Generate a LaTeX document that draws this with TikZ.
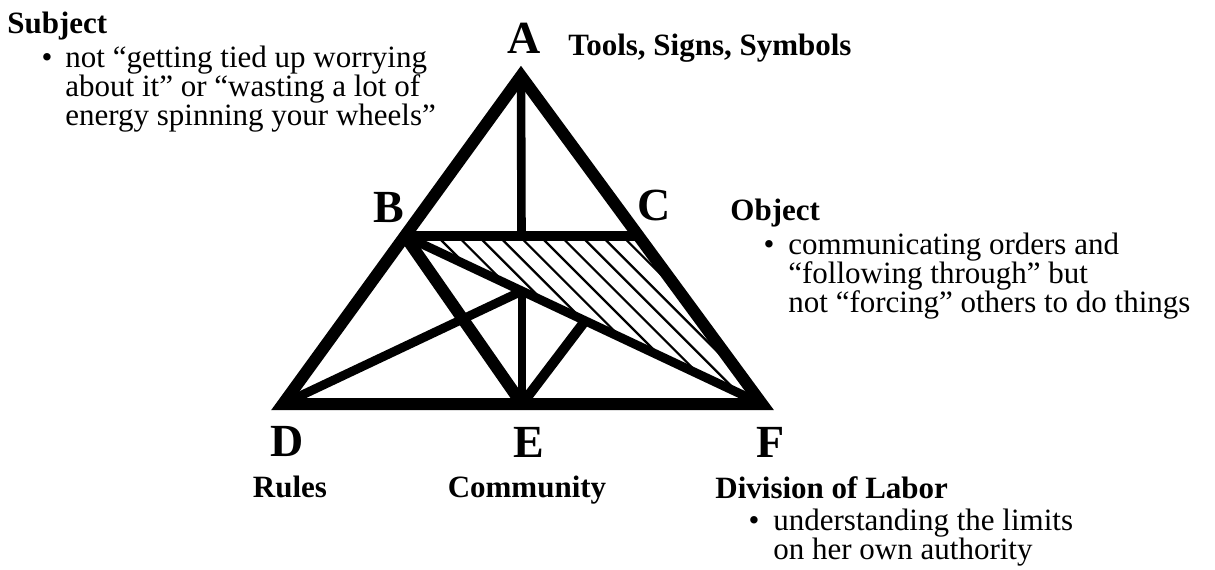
\documentclass[tikz,border=0pt]{standalone}
\usepackage{fontspec}
\setmainfont{Liberation Serif}
\begin{document}
\begin{tikzpicture}[x=0.5pt,y=-0.5pt,
  lbl/.style={font=\fontsize{23}{23}\selectfont\bfseries, inner sep=0pt, anchor=base},
  head/.style={font=\fontsize{15.5}{15.5}\selectfont\bfseries, inner sep=0pt, anchor=base west},
  body/.style={font=\fontsize{15.5}{15.5}\selectfont, inner sep=0pt, anchor=base west},
  bul/.style={font=\fontsize{15.5}{15.5}\selectfont, inner sep=0pt, anchor=base},
  outer/.style={line width=6pt, line join=miter},
  thick1/.style={line width=4.5pt},
  hatchline/.style={line width=1.1pt}]
\useasboundingbox (0,0) rectangle (1215,569);
% key points
\coordinate (A) at (521,76);
\coordinate (B) at (405,236);
\coordinate (C) at (638,236);
\coordinate (D) at (283,404);
\coordinate (E) at (522,404);
\coordinate (F) at (762,404);
\coordinate (P) at (522,291);
\coordinate (Q) at (585,321);
\coordinate (M) at (521.5,236);
% hatching of triangle B-C-F
\begin{scope}
  \clip (B) -- (C) -- (F) -- cycle;
  \foreach \i in {-2,...,20}
    \draw[hatchline] (437+\i*20.6,236) -- ++(400,400);
\end{scope}
% inner lines
\draw[line width=4.3pt] (A) -- (M);
\draw[line width=4.3pt] (P) -- (E);
\draw[line width=5pt] (B) -- (C);
\draw[line width=6pt] (B) -- (E);
\draw[thick1] (B) -- (F);
\draw[thick1] (D) -- (P);
\draw[line width=5pt] (E) -- (Q);
% outer triangle
\draw[outer] (A) -- (D) -- (F) -- cycle;
% vertex letters
\node[lbl] (la) at (524,53) {A};
\node[lbl] (lb) at (389,222) {B};
\node[lbl] (lc) at (654,220) {C};
\node[lbl] (ld) at (287,456) {D};
\node[lbl] (le) at (529,457) {E};
\node[lbl] (lf) at (771,457) {F};
% Subject
\node[head] (subj) at (7,33) {Subject};
\node[bul] (sb) at (47,67) {•};
\node[body] (s1) at (65,67) {not “getting tied up worrying};
\node[body] (s2) at (65,96) {about it” or “wasting a lot of};
\node[body] (s3) at (65,125) {energy spinning your wheels”};
% Tools
\node[head] (tools) at (568,55) {Tools, Signs, Symbols};
% Object
\node[head] (obj) at (730,220) {Object};
\node[bul] (ob) at (769,254) {•};
\node[body] (o1) at (788,254) {communicating orders and};
\node[body] (o2) at (788,283) {“following through” but};
\node[body] (o3) at (788,312) {not “forcing” others to do things};
% bottom labels
\node[head, anchor=base] (rules) at (290,497) {Rules};
\node[head, anchor=base] (comm) at (527,497) {Community};
\node[head] (div) at (715,498) {Division of Labor};
\node[bul] (db) at (754,530) {•};
\node[body] (d1) at (773,530) {understanding the limits};
\node[body] (d2) at (773,559) {on her own authority};
\end{tikzpicture}
\end{document}
